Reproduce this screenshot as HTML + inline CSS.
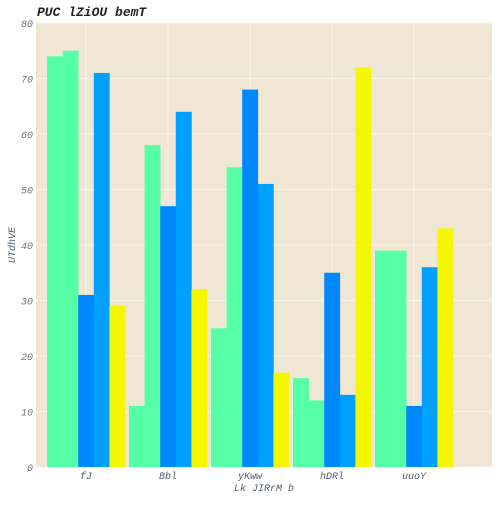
<!DOCTYPE html>
<html><head><meta charset="utf-8"><style>
body{margin:0;background:#fff;}
text{font-family:"Liberation Mono",monospace;font-style:italic;}
</style></head><body>
<svg id="chart" width="500" height="500">
<rect x="36" y="23" width="456" height="444" fill="#efe6d4"/>
<g id="grid"></g><g id="bars"></g><g id="axes"></g>
<text x="37" y="16" font-size="13" font-weight="bold" fill="#222">PUC lZiOU bemT</text>
<text x="264" y="491" font-size="10" fill="#555f6a" text-anchor="middle">Lk JIRrM b</text>
<text x="15" y="245" font-size="10" fill="#555f6a" text-anchor="middle" transform="rotate(-90 15 245)">UTdhVE</text>
</svg>
<script>
const categories=["fJ","Bbl","yKww","hDRl","uuoY"];
const s1=[74,11,25,16,39];
const s2=[75,58,54,12,39];
const s3=[31,47,68,35,11];
const s4=[71,64,51,13,36];
const s5=[29,32,17,72,43];
const yTicks=[0,10,20,30,40,50,60,70,80];
const series=[s1,s2,s3,s4,s5];
const colors=["#55ffa5","#55ffa5","#0088ff","#00a0ff","#f5f700"];
const NS="http://www.w3.org/2000/svg";
const y=v=>467-v*444/80;
const xc=i=>86+82*i;
const bw=15.6;
function mk(tag,attrs,parent){const e=document.createElementNS(NS,tag);for(const k in attrs)e.setAttribute(k,attrs[k]);document.getElementById(parent).appendChild(e);return e;}
yTicks.forEach(t=>{
  const l=mk("line",{x1:36,x2:492,y1:y(t),y2:y(t),stroke:"#f8f4ea","stroke-width":1},"grid");
  
  
  const tx=mk("text",{x:33,y:y(t)+4,"font-size":10,fill:"#6b7580","text-anchor":"end"},"axes");
  tx.textContent=t;
  
  
});
categories.forEach((c,i)=>{
  const l=mk("line",{x1:xc(i),x2:xc(i),y1:23,y2:467,stroke:"#f8f4ea","stroke-width":1},"grid");
  
  
  const tx=mk("text",{x:xc(i),y:479,"font-size":10,fill:"#555f6a","text-anchor":"middle"},"axes");
  tx.textContent=c;
  
  
  series.forEach((s,j)=>{
    const v=s[i];
    const r=mk("rect",{x:xc(i)+(j-2.5)*bw,y:y(v),width:bw+0.3,height:467-y(v),fill:colors[j]},"bars");
    
    
  });
});
</script>
</body></html>
